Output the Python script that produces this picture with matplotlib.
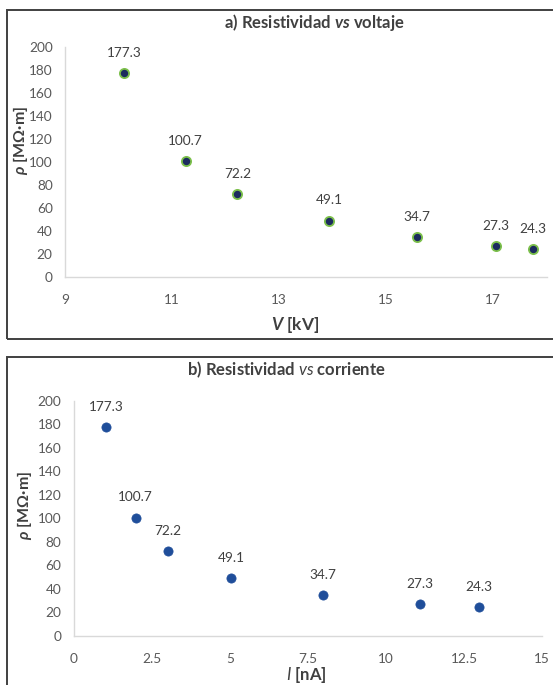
import matplotlib
matplotlib.use("Agg")
import matplotlib.pyplot as plt
from matplotlib.patches import Rectangle

plt.rcParams['font.family'] = ['Lato', 'DejaVu Sans']
plt.rcParams['mathtext.fontset'] = 'custom'
plt.rcParams['mathtext.rm'] = 'Lato'
plt.rcParams['mathtext.it'] = 'Lato:italic'
plt.rcParams['mathtext.bf'] = 'Lato:bold'
plt.rcParams['mathtext.bfit'] = 'Lato:bold:italic'

# Data
voltage_kv = [10.1, 11.25, 12.22, 13.93, 15.57, 17.05, 17.75]
current_na = [1.02, 1.98, 3.02, 5.03, 7.97, 11.08, 12.98]
resistivity = [177.3, 100.7, 72.2, 49.1, 34.7, 27.3, 24.3]
labels = ["177.3", "100.7", "72.2", "49.1", "34.7", "27.3", "24.3"]
xticks_a = [9, 11, 13, 15, 17]
xticks_b = [0, 2.5, 5, 7.5, 10, 12.5, 15]
xticklabels_b = ["0", "2.5", "5", "7.5", "10", "12.5", "15"]
yticks = [0, 20, 40, 60, 80, 100, 120, 140, 160, 180, 200]

W, H = 553, 685
fig = plt.figure(figsize=(W / 100, H / 100), dpi=100)

def fx(px):
    return px / W

def fy(py):
    return 1 - py / H

# panel frames
for (top, bot) in [(10, 339), (357, 700)]:
    fig.patches.append(Rectangle((fx(7), fy(bot)), fx(600 - 7), fy(top) - fy(bot),
                                 transform=fig.transFigure, fill=False,
                                 edgecolor='#404040', linewidth=1.4, zorder=0))

tick_color = '#595959'
lab_color = '#404040'
spine_color = '#d9d9d9'
TICK_FS = 9.8
LAB_FS = 9.8

def style(ax):
    for s in ['top', 'right']:
        ax.spines[s].set_visible(False)
    for s in ['left', 'bottom']:
        ax.spines[s].set_color(spine_color)
        ax.spines[s].set_linewidth(1.0)
    ax.tick_params(axis='both', length=0, labelsize=TICK_FS, labelcolor=tick_color)
    ax.tick_params(axis='x', pad=12)
    ax.tick_params(axis='y', pad=9)
    ax.set_yticks(yticks)
    ax.set_ylim(0, 200)
    ax.patch.set_alpha(0)

# Panel a
axa = fig.add_axes([fx(65.2), fy(277), fx(546.7 - 65.2), fy(47.3) - fy(277)])
style(axa)
axa.scatter(voltage_kv, resistivity, s=44, color='#1c2b5e', edgecolors='#7cc04b',
            linewidths=1.3, zorder=3, clip_on=False)
axa.set_xlim(9, 18)
axa.set_xticks(xticks_a)
for x, y, t in zip(voltage_kv, resistivity, labels):
    axa.annotate(t, (x, y), xytext=(0, 14.5), textcoords='offset points',
                 ha='center', va='center', fontsize=LAB_FS, color=lab_color,
                 annotation_clip=False)
fig.text(fx(314.7), fy(22.7), r"a) Resistividad $\mathbfit{vs}$ voltaje", ha='center',
         va='center', fontsize=12, fontweight='bold', color=lab_color)
fig.text(fx(295), fy(325), r"$\mathbfit{V}$ [kV]", ha='center', va='center',
         fontsize=12.5, fontweight='bold', color=lab_color)
fig.text(fx(20), fy(140), r"$\mathbfit{\rho}$ [MΩ·m]", ha='center', va='center',
         rotation=90, fontsize=11.5, fontweight='bold', color=lab_color)

# Panel b
axb = fig.add_axes([fx(74), fy(636), fx(542 - 74), fy(400.7) - fy(636)])
style(axb)
axb.scatter(current_na, resistivity, s=44, color='#1f4e9a', edgecolors='#1f4e9a',
            linewidths=0.5, zorder=3, clip_on=False)
axb.set_xlim(0, 15)
axb.set_xticks(xticks_b)
axb.set_xticklabels(xticklabels_b)
for x, y, t in zip(current_na, resistivity, labels):
    axb.annotate(t, (x, y), xytext=(0, 14.5), textcoords='offset points',
                 ha='center', va='center', fontsize=LAB_FS, color=lab_color,
                 annotation_clip=False)
fig.text(fx(286), fy(370), r"b) Resistividad $\mathit{vs}$ corriente", ha='center',
         va='center', fontsize=12, fontweight='bold', color=lab_color)
fig.text(fx(306), fy(675), r"$\mathit{I}$ [nA]", ha='center', va='center',
         fontsize=12, fontweight='bold', color=lab_color)
fig.text(fx(24.5), fy(505), r"$\mathbfit{\rho}$ [MΩ·m]", ha='center', va='center',
         rotation=90, fontsize=11.5, fontweight='bold', color=lab_color)

fig.savefig("out.png", dpi=100)
